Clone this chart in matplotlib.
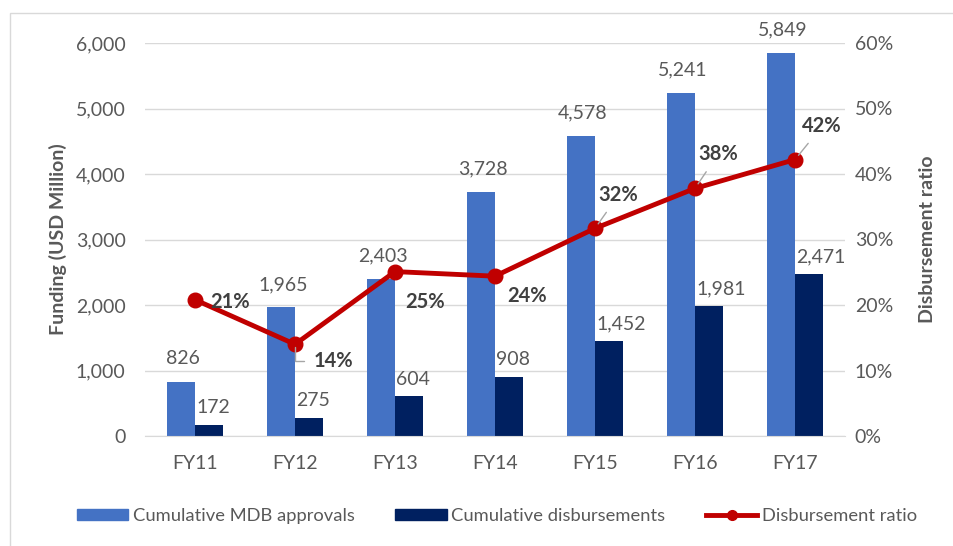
import numpy as np
import matplotlib
matplotlib.use("Agg")
import matplotlib.pyplot as plt
from matplotlib.patches import Rectangle, Patch
from matplotlib.lines import Line2D

plt.rcParams["font.family"] = ["Lato", "DejaVu Sans"]

# data
years = ["FY11", "FY12", "FY13", "FY14", "FY15", "FY16", "FY17"]
approvals = [826, 1965, 2403, 3728, 4578, 5241, 5849]
disbursed = [172, 275, 604, 908, 1452, 1981, 2471]
ratio = [20.8, 14.0, 25.1, 24.4, 31.7, 37.8, 42.2]
ratio_labels = ["21%", "14%", "25%", "24%", "32%", "38%", "42%"]

# label offsets for the ratio labels (points), and whether a leader line is drawn
lab_off = [(25, -1.5), (28, -12), (22, -22), (23, -14), (17, 24), (16.5, 24.5), (19.5, 24)]
leader = [False, True, False, False, True, True, True]

blue = "#4472C4"
navy = "#002060"
red = "#C00000"
txt = "#595959"
grid = "#D9D9D9"
fs = 14

fig = plt.figure(figsize=(9.54, 5.46), dpi=100)
fig.patches.append(Rectangle((10 / 954, -0.1), 1.2, (546 - 13) / 546 + 0.1,
                             transform=fig.transFigure, fill=False,
                             edgecolor="#D9D9D9", linewidth=1))

ax = fig.add_axes([145 / 954, 110 / 546, 700 / 954, 393 / 546])
x = np.arange(len(years))
w = 0.28
ax.bar(x - w / 2, approvals, w, color=blue, zorder=2)
ax.bar(x + w / 2, disbursed, w, color=navy, zorder=2)

ax.set_xlim(-0.5, len(years) - 0.5)
ax.set_ylim(0, 6000)
ax.set_yticks(np.arange(0, 6001, 1000))
ax.set_yticklabels([f"{v:,}" for v in range(0, 6001, 1000)])
ax.set_xticks(x)
ax.set_xticklabels(years)
ax.yaxis.grid(True, color=grid, linewidth=1, zorder=0)
ax.set_axisbelow(True)
for s in ["top", "right", "left"]:
    ax.spines[s].set_visible(False)
ax.spines["bottom"].set_color(grid)
ax.tick_params(length=0, labelsize=fs, colors=txt)
ax.tick_params(axis="y", pad=14)
ax.tick_params(axis="x", pad=14)
ax.set_ylabel("Funding (USD Million)", fontsize=fs, fontweight="bold",
              color=txt, labelpad=6)

for xi, v in zip(x, approvals):
    ax.annotate(f"{v:,}", (xi - w / 2, v), xytext=(1.5, 16.5), textcoords="offset points",
                ha="center", va="center", fontsize=fs, color=txt)
for xi, v in zip(x, disbursed):
    ax.annotate(f"{v:,}", (xi, v), xytext=(1, 12.5), textcoords="offset points",
                ha="left", va="center", fontsize=fs, color=txt)

ax2 = ax.twinx()
ax2.set_ylim(0, 60)
ax2.set_yticks(np.arange(0, 61, 10))
ax2.set_yticklabels([f"{v}%" for v in range(0, 61, 10)])
for s in ax2.spines.values():
    s.set_visible(False)
ax2.tick_params(length=0, labelsize=fs, colors=txt, pad=7)
ax2.set_ylabel("Disbursement ratio", fontsize=fs, fontweight="bold",
               color=txt, labelpad=19)
ax2.plot(x, ratio, color=red, linewidth=3.5, marker="o", markersize=10.5, zorder=3)

for xi, r, lab, off, ld in zip(x, ratio, ratio_labels, lab_off, leader):
    if ld and off[1] < 0:
        arrow = dict(arrowstyle="-", color="#A6A6A6", lw=1,
                     connectionstyle="angle,angleA=0,angleB=90,rad=0",
                     shrinkA=5, shrinkB=2)
    elif ld:
        arrow = dict(arrowstyle="-", color="#A6A6A6", lw=1, shrinkA=4, shrinkB=4)
    else:
        arrow = None
    ax2.annotate(lab, (xi, r), xytext=off, textcoords="offset points",
                 ha="center", va="center", fontsize=14.5, fontweight="bold",
                 color="#404040", arrowprops=arrow)

handles = [Patch(color=blue), Patch(color=navy),
           Line2D([0], [0], color=red, linewidth=3.5, marker="o", markersize=7)]
fig.legend(handles, ["Cumulative MDB approvals", "Cumulative disbursements",
                     "Disbursement ratio"],
           loc="center", bbox_to_anchor=(0.521, 0.055), ncol=3, frameon=False,
           fontsize=13.2, labelcolor=txt, handlelength=2.8, handleheight=0.55,
           columnspacing=2.2, handletextpad=0.27)

fig.savefig("out.png", dpi=100)
